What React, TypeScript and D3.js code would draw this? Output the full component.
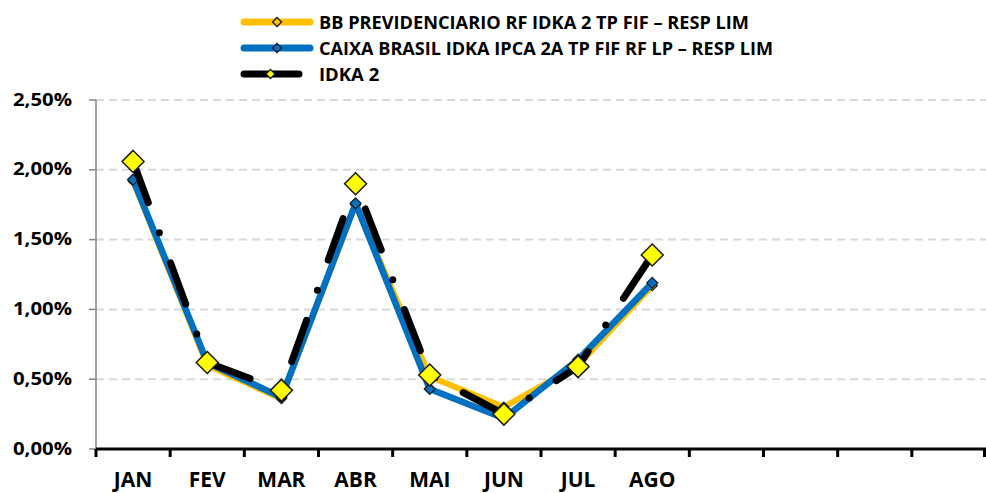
import React from "react";
import * as d3 from "d3";

const months = ["JAN", "FEV", "MAR", "ABR", "MAI", "JUN", "JUL", "AGO", "SET", "OUT", "NOV", "DEZ"];
const monthLabels = ["JAN", "FEV", "MAR", "ABR", "MAI", "JUN", "JUL", "AGO", "", "", "", ""];
const yTicks = [0, 0.005, 0.01, 0.015, 0.02, 0.025];

const bbName = "BB PREVIDENCIARIO RF IDKA 2 TP FIF – RESP LIM";
const caixaName = "CAIXA BRASIL IDKA IPCA 2A TP FIF RF LP – RESP LIM";
const idkaName = "IDKA 2";

const bbValues = [0.0192, 0.0060, 0.0036, 0.0175, 0.0052, 0.0030, 0.0060, 0.0117];
const caixaValues = [0.0193, 0.0062, 0.0037, 0.0176, 0.0043, 0.0022, 0.0064, 0.0119];
const idkaValues = [0.0206, 0.0062, 0.0042, 0.0190, 0.0053, 0.0025, 0.0059, 0.0139];

const FONT = "'Open Sans', Lato, sans-serif";

function diamond(cx: number, cy: number, r: number) {
  return `M${cx},${cy - r}L${cx + r},${cy}L${cx},${cy + r}L${cx - r},${cy}Z`;
}

export default function App() {
  const W = 986, H = 493;
  const left = 96, right = 986, top = 100, bottom = 449;
  const x = d3.scaleBand<string>().domain(months).range([left, right]).padding(0);
  const y = d3.scaleLinear().domain([0, 0.025]).range([bottom, top]);
  const cx = (i: number) => (x(months[i]) as number) + x.bandwidth() / 2;
  const line = d3.line<number>().x((_, i) => cx(i)).y((d) => y(d));
  const fmt = (v: number) => (v * 100).toFixed(2).replace(".", ",") + "%";

  const legendRows = [
    { name: bbName, color: "#FFC000", marker: "#FFC000", len: 72, dx: 0, tl: 430 },
    { name: caixaName, color: "#0070C0", marker: "#0070C0", len: 72, dx: 0, tl: 454 },
    { name: idkaName, color: "#000000", marker: "#FFFF00", len: 61, dx: -1, tl: 0 },
  ];

  return (
    <svg width={W} height={H} style={{ position: "absolute", left: 0, top: 0, background: "#fff" }}>
      <rect x={0} y={0} width={W} height={H} fill="#fff" />
      {/* gridlines */}
      {yTicks.slice(1).map((t) => (
        <line key={t} x1={left} x2={right} y1={y(t)} y2={y(t)} stroke="#D9D9D9" strokeWidth={2} strokeDasharray="8 5" />
      ))}
      {/* y axis */}
      <line x1={left} x2={left} y1={top} y2={bottom} stroke="#868686" strokeWidth={1.5} />
      {yTicks.map((t) => (
        <g key={"yt" + t}>
          <line x1={left - 7} x2={left} y1={y(t)} y2={y(t)} stroke="#868686" strokeWidth={1.5} />
          <text x={72} y={y(t) - 1} dy="0.36em" textAnchor="end" fontFamily={FONT} fontWeight={700} fontSize={18.5} fill="#000" textLength={59} lengthAdjust="spacingAndGlyphs">
            {fmt(t)}
          </text>
        </g>
      ))}
      {/* x axis */}
      <line x1={left} x2={right} y1={bottom} y2={bottom} stroke="#000" strokeWidth={3} />
      {months.map((m) => (
        <line key={"xt" + m} x1={x(m) as number} x2={x(m) as number} y1={bottom} y2={bottom + 8} stroke="#000" strokeWidth={3} />
      ))}
      <line x1={right - 1.5} x2={right - 1.5} y1={bottom} y2={bottom + 8} stroke="#000" strokeWidth={3} />
      {monthLabels.map((m, i) => (
        <text key={"xl" + i} x={cx(i)} y={487} textAnchor="middle" fontFamily={FONT} fontWeight={700} fontSize={21} fill="#000">
          {m}
        </text>
      ))}
      {/* series */}
      <path d={line(bbValues) || ""} fill="none" stroke="#FFC000" strokeWidth={6} strokeLinejoin="round" />
      {bbValues.map((v, i) => (
        <path key={"bbm" + i} d={diamond(cx(i), y(v), 5)} fill="#FFC000" stroke="#1a1a1a" strokeWidth={1.2} />
      ))}
      <path d={line(caixaValues) || ""} fill="none" stroke="#0070C0" strokeWidth={6.5} strokeLinejoin="round" />
      {caixaValues.map((v, i) => (
        <path key={"cm" + i} d={diamond(cx(i), y(v), 5.5)} fill="#0070C0" stroke="#1a1a1a" strokeWidth={1.2} />
      ))}
      <path d={line(idkaValues) || ""} fill="none" stroke="#000" strokeWidth={7} strokeLinecap="round" strokeLinejoin="round" strokeDasharray="44 32 0 32" />
      {idkaValues.map((v, i) => (
        <path key={"im" + i} d={diamond(cx(i), y(v), 11)} fill="#FFFF00" stroke="#1a1a1a" strokeWidth={1.5} />
      ))}
      {/* legend */}
      {legendRows.map((r, k) => {
        const ly = 22 + k * 26;
        const x0 = 244, x1 = x0 + r.len - 6;
        return (
          <g key={"lg" + k}>
            <line x1={x0} x2={x1} y1={ly} y2={ly} stroke={r.color} strokeWidth={7} strokeLinecap="round" />
            <path d={diamond((x0 + x1) / 2 + r.dx, ly, 4.5)} fill={r.marker} stroke="#1a1a1a" strokeWidth={1.3} />
            {r.tl > 0 ? (
              <text x={319} y={ly} dy="0.36em" fontFamily={FONT} fontWeight={700} fontSize={18.5} fill="#000" textLength={r.tl} lengthAdjust="spacingAndGlyphs">
                {r.name}
              </text>
            ) : (
              <text x={319} y={ly} dy="0.36em" fontFamily={FONT} fontWeight={700} fontSize={18.5} fill="#000">
                {r.name}
              </text>
            )}
          </g>
        );
      })}
    </svg>
  );
}
